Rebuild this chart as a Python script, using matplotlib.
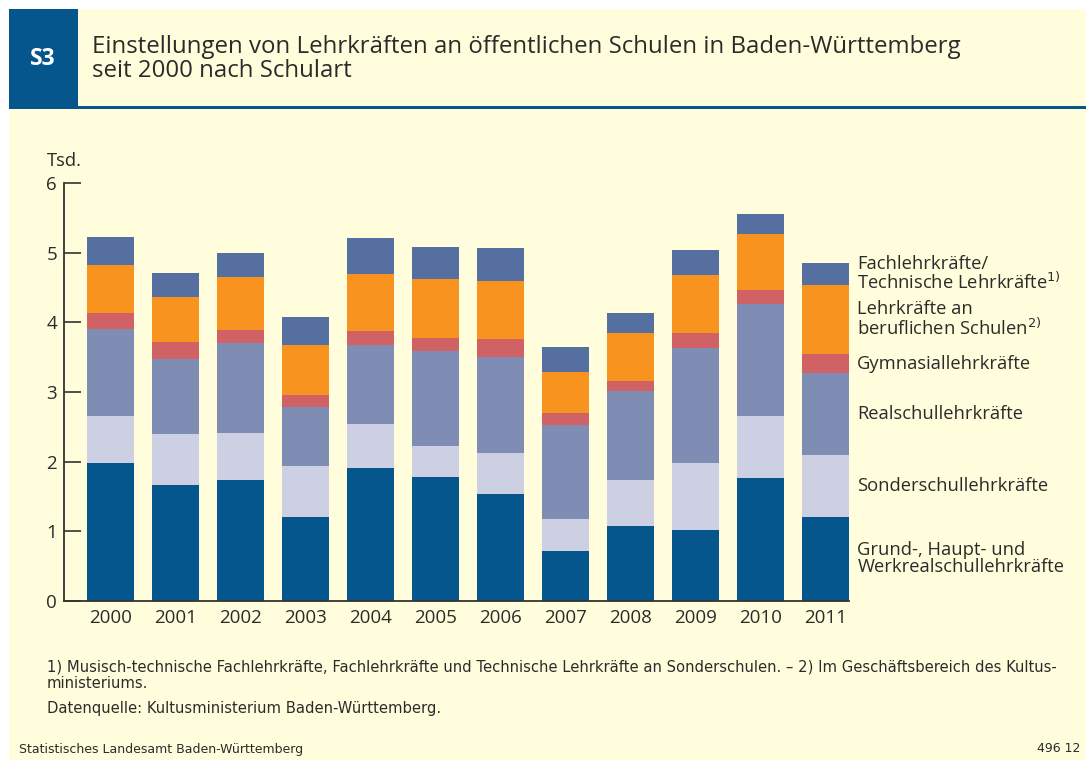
import matplotlib
matplotlib.use('Agg')
import matplotlib.pyplot as plt
from matplotlib.patches import Rectangle
import numpy as np

plt.rcParams['font.family'] = ['Open Sans', 'DejaVu Sans']

W, H = 1086, 760

years = ['2000', '2001', '2002', '2003', '2004', '2005',
         '2006', '2007', '2008', '2009', '2010', '2011']

# Tsd. Einstellungen je Schulart (von unten nach oben gestapelt)
grund_haupt = [1.98, 1.67, 1.74, 1.21, 1.91, 1.78, 1.54, 0.72, 1.08, 1.02, 1.77, 1.21]
sonder      = [0.68, 0.73, 0.67, 0.72, 0.63, 0.45, 0.59, 0.45, 0.66, 0.96, 0.88, 0.89]
realschule  = [1.24, 1.07, 1.29, 0.86, 1.13, 1.36, 1.38, 1.35, 1.28, 1.65, 1.61, 1.17]
gymnasium   = [0.23, 0.25, 0.19, 0.16, 0.20, 0.19, 0.25, 0.18, 0.14, 0.22, 0.21, 0.27]
beruflich   = [0.69, 0.65, 0.76, 0.72, 0.82, 0.85, 0.83, 0.59, 0.69, 0.83, 0.80, 1.00]
fachlehr    = [0.41, 0.34, 0.35, 0.41, 0.52, 0.45, 0.48, 0.36, 0.29, 0.36, 0.29, 0.32]

series = [grund_haupt, sonder, realschule, gymnasium, beruflich, fachlehr]
labels = ['Grund-, Haupt- und\nWerkrealschullehrkräfte',
          'Sonderschullehrkräfte',
          'Realschullehrkräfte',
          'Gymnasiallehrkräfte',
          'Lehrkräfte an\nberuflichen Schulen$^{2)}$',
          'Fachlehrkräfte/\nTechnische Lehrkräfte$^{1)}$']
colors = ['#04568c', '#cdd0e2', '#7f8db5', '#d06266', '#f7931e', '#5570a0']

BG = '#fffddc'
DARK = '#04568c'
TXT = '#2b2b2b'


def fx(x): return x / W
def fy(y): return 1 - y / H


fig = plt.figure(figsize=(W / 100, H / 100), dpi=100, facecolor='white')

# Hintergrundflaechen
fig.add_artist(Rectangle((fx(9), 0), fx(W - 9), fy(9), transform=fig.transFigure,
                         facecolor=BG, edgecolor='none', zorder=0))
fig.add_artist(Rectangle((fx(9), fy(107)), fx(69), fy(9) - fy(107), transform=fig.transFigure,
                         facecolor=DARK, edgecolor='none', zorder=1))
fig.add_artist(Rectangle((fx(9), fy(109)), fx(W - 9), fy(106) - fy(109), transform=fig.transFigure,
                         facecolor=DARK, edgecolor='none', zorder=1))

fig.text(fx(43), fy(59), 'S3', color='white', fontsize=16.5, fontweight='bold',
         ha='center', va='center')
fig.text(fx(92), fy(59), 'Einstellungen von Lehrkräften an öffentlichen Schulen in Baden-Württemberg\nseit 2000 nach Schulart',
         color=TXT, fontsize=17.3, ha='left', va='center', linespacing=1.0)

ax = fig.add_axes([fx(64), fy(600.7), fx(848.7 - 64), fy(183.3) - fy(600.7)])
ax.set_facecolor('none')

x = np.arange(len(years))
bottom = np.zeros(len(years))
for vals, col in zip(series, colors):
    ax.bar(x, vals, width=0.72, bottom=bottom, color=col, edgecolor='none', zorder=2)
    bottom += np.array(vals)

# Beschriftung rechts an den Segmenten 2011
cum = 0
for vals, lab in zip(series, labels):
    mid = cum + vals[-1] / 2
    cum += vals[-1]
    ax.text(11.49, mid, lab, fontsize=13.2, color=TXT, ha='left', va='center',
            linespacing=0.95, clip_on=False)

ax.set_xlim(-0.715, 11.357)
ax.set_ylim(0, 6)
ax.set_xticks(x)
ax.set_xticklabels(years)
ax.set_yticks(range(7))
ax.tick_params(axis='x', length=0, pad=6, labelsize=13.5, labelcolor=TXT)
ax.tick_params(axis='y', direction='in', length=12, width=1.2, color='#333333',
               pad=5, labelsize=13.5, labelcolor=TXT)
for s in ['top', 'right']:
    ax.spines[s].set_visible(False)
for s in ['left', 'bottom']:
    ax.spines[s].set_color('#333333')
    ax.spines[s].set_linewidth(1.3)
ax.text(-0.98, 6.32, 'Tsd.', fontsize=13.2, color=TXT, ha='left', va='center', clip_on=False)

narrow = ['Liberation Sans Narrow', 'DejaVu Sans']
fig.text(fx(47), fy(667), '1) Musisch-technische Fachlehrkräfte, Fachlehrkräfte und Technische Lehrkräfte an Sonderschulen. – 2) Im Geschäftsbereich des Kultus-',
         family=narrow, fontsize=10.6, color=TXT, va='center')
fig.text(fx(47), fy(684), 'ministeriums.', family=narrow, fontsize=10.6, color=TXT, va='center')
fig.text(fx(47), fy(708), 'Datenquelle: Kultusministerium Baden-Württemberg.', family=narrow,
         fontsize=10.6, color=TXT, va='center')
fig.text(fx(19), fy(749), 'Statistisches Landesamt Baden-Württemberg', family=narrow,
         fontsize=9, color=TXT, va='center')
fig.text(fx(1080), fy(749), '496 12', family=narrow, fontsize=9, color=TXT, va='center', ha='right')

fig.savefig('out.png', dpi=100, facecolor='white')
